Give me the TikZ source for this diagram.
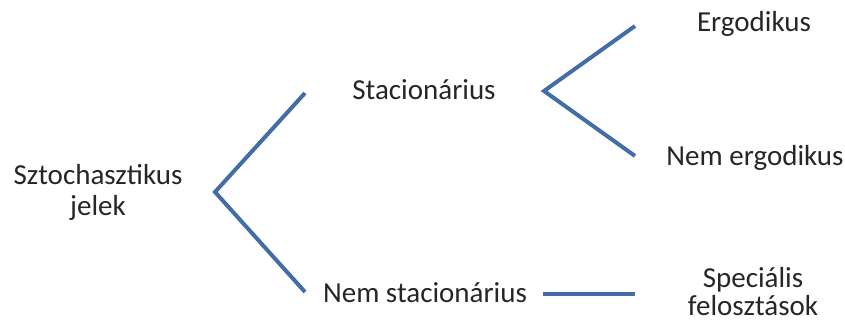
\documentclass[tikz,border=0pt]{standalone}
\usepackage{fontspec}
\setmainfont{Carlito}
\definecolor{branchblue}{RGB}{68,108,166}

\tikzset{
  branch/.style={draw=branchblue, line width=4pt},
  label/.style={align=center, anchor=base, inner sep=0pt, text=black!85}
}

\begin{document}
\begin{tikzpicture}[x=1pt, y=-1pt, font=\fontsize{29}{31}\selectfont]
    \useasboundingbox (0,0) rectangle (845,320);

    % Labels (placed on their last baseline)
    \node[label] (root) at (98,216) {Sztochasztikus\\jelek};
    \node[label] (stac) at (424,100) {Stacionárius};
    \node[label] (nstac) at (425,302) {Nem stacionárius};
    \node[label] (ergo) at (754,32) {Ergodikus};
    \node[label] (nergo) at (755,166) {Nem ergodikus};
    \node[label, font=\fontsize{29}{28}\selectfont] (spec) at (753,315) {Speciális\\felosztások};

    % Branch points and free ends
    \coordinate (fork1) at (215,192);
    \coordinate (stacin) at (305,93);
    \coordinate (nstacin) at (305,292);
    \coordinate (fork2) at (544,91);
    \coordinate (ergoin) at (635,26);
    \coordinate (nergoin) at (635,156);
    \coordinate (nstacout) at (543,294);
    \coordinate (specin) at (635,294);

    % Branches
    \draw[branch] (stacin) -- (fork1) -- (nstacin);
    \draw[branch] (ergoin) -- (fork2) -- (nergoin);
    \draw[branch] (nstacout) -- (specin);
\end{tikzpicture}
\end{document}
